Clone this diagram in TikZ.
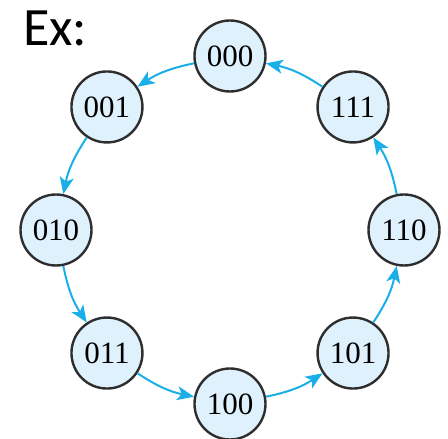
\documentclass[tikz,border=0pt]{standalone}
\usepackage{fontspec}
\setmainfont{Liberation Serif}
\newfontfamily\labelfont{Carlito}
\usetikzlibrary{arrows.meta,calc}
\definecolor{statefill}{HTML}{DFF1FC}
\definecolor{stateedge}{HTML}{2E2E2E}
\definecolor{flow}{HTML}{1AAFE8}
\begin{document}
\begin{tikzpicture}[x=1pt,y=1pt,
  state/.style={circle,draw=stateedge,fill=statefill,line width=2.4pt,
    minimum size=71pt,inner sep=0pt,font=\fontsize{31}{31}\selectfont},
  trans/.style={draw=flow,line width=2pt,
    -{Stealth[length=17pt,width=14pt,inset=4.5pt]},bend right=11}]
\useasboundingbox (0,0) rectangle (448,439);
\coordinate (c) at (230,209);
\node[anchor=base west,inner sep=0pt,font=\labelfont\fontsize{54}{54}\selectfont] (ex) at (23,393) {Ex:};
\node[state] (s000) at ($(c)+(90:174)$) {000};
\node[state] (s001) at ($(c)+(135:174)$) {001};
\node[state] (s010) at ($(c)+(180:174)$) {010};
\node[state] (s011) at ($(c)+(225:174)$) {011};
\node[state] (s100) at ($(c)+(270:174)$) {100};
\node[state] (s101) at ($(c)+(315:174)$) {101};
\node[state] (s110) at ($(c)+(0:174)$) {110};
\node[state] (s111) at ($(c)+(45:174)$) {111};
\draw[trans] (s000) to (s001);
\draw[trans] (s001) to (s010);
\draw[trans] (s010) to (s011);
\draw[trans] (s011) to (s100);
\draw[trans] (s100) to (s101);
\draw[trans] (s101) to (s110);
\draw[trans] (s110) to (s111);
\draw[trans] (s111) to (s000);
\end{tikzpicture}
\end{document}
